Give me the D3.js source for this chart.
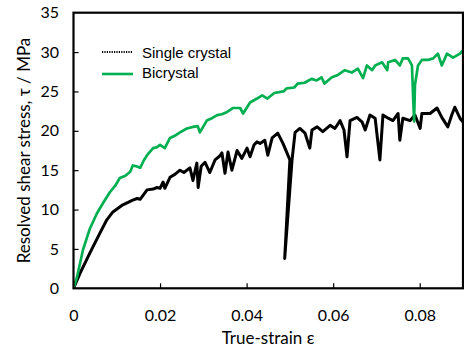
<!DOCTYPE html>
<html><head><meta charset="utf-8">
<script src="https://cdn.jsdelivr.net/npm/d3@7"></script>
<style>body{margin:0;background:#fff}svg{display:block}</style>
</head><body>
<script>
const xTicks = [0, 0.02, 0.04, 0.06, 0.08];
const xTickLabels = ["0", "0.02", "0.04", "0.06", "0.08"];
const yTicks = [0, 5, 10, 15, 20, 25, 30, 35];
const seriesNames = ["Single crystal", "Bicrystal"];

const singleStrain = [0,0.0015,0.0038,0.0061,0.0077,0.0091,0.0114,0.0137,0.0147,0.0154,0.0170,0.0184,0.0193,0.0200,0.0207,0.0211,0.0223,0.0235,0.0246,0.0255,0.0269,0.0276,0.0285,0.0288,0.0295,0.0304,0.0315,0.0327,0.0338,0.0343,0.0350,0.0357,0.0366,0.0378,0.0389,0.0401,0.0408,0.0417,0.0424,0.0431,0.0442,0.0449,0.0459,0.0472,0.0484,0.0500,0.0488,0.0505,0.0512,0.0523,0.0535,0.0546,0.0551,0.0563,0.0576,0.0593,0.0604,0.0616,0.0625,0.0632,0.0639,0.0655,0.0667,0.0674,0.0685,0.0697,0.0708,0.0715,0.0727,0.0738,0.0750,0.0754,0.0761,0.0778,0.0789,0.0801,0.0805,0.0824,0.0840,0.0851,0.0865,0.0874,0.0881,0.0893,0.0900];
const singleStress = [0,1.9,4.5,7.0,8.7,9.7,10.6,11.2,11.4,11.3,12.5,12.6,12.8,12.7,13.5,12.7,14.1,14.5,15.0,14.7,15.3,13.7,15.9,12.8,15.5,16.0,14.7,16.3,16.8,17.2,14.6,17.3,15.0,17.5,16.5,17.8,16.7,18.2,18.6,18.4,18.8,16.9,19.1,19.7,18.4,16.3,3.8,16.3,19.8,20.3,19.7,17.8,20.1,20.5,19.9,20.7,20.3,21.3,20.1,16.7,21.3,21.7,21.1,20.1,22.0,21.6,16.3,22.0,21.6,21.3,22.2,18.8,21.6,21.3,22.0,20.3,22.2,22.2,22.9,21.7,20.5,22.0,23.0,21.6,21.1];

const biStrain = [0,0.0008,0.0022,0.0038,0.0054,0.0068,0.0084,0.0096,0.0107,0.0120,0.0131,0.0137,0.0145,0.0154,0.0162,0.0170,0.0184,0.0192,0.0200,0.0211,0.0223,0.0235,0.0246,0.0262,0.0276,0.0287,0.0292,0.0308,0.0320,0.0332,0.0343,0.0355,0.0369,0.0385,0.0392,0.0408,0.0424,0.0436,0.0448,0.0464,0.0485,0.0493,0.0510,0.0518,0.0534,0.0550,0.0562,0.0573,0.0580,0.0597,0.0611,0.0627,0.0643,0.0657,0.0669,0.0678,0.0690,0.0697,0.0713,0.0725,0.0727,0.0743,0.0754,0.0761,0.0773,0.0782,0.0787,0.0789,0.0796,0.0805,0.0819,0.0831,0.0842,0.0851,0.0863,0.0877,0.0893,0.0900];
const biStress = [0,1.4,4.9,7.6,9.5,10.8,12.2,13.0,14.0,14.3,14.8,15.6,15.5,15.3,16.2,16.9,17.8,17.9,18.2,17.8,19.1,19.4,19.8,20.3,20.5,20.6,19.8,21.3,21.6,22.0,22.1,22.4,22.9,22.9,22.2,23.6,24.1,24.5,24.1,24.8,25.0,25.4,25.5,26.0,26.1,26.6,26.4,26.8,26.0,26.8,27.1,27.7,27.4,27.9,26.7,28.3,27.7,28.3,28.7,27.7,28.7,29.0,28.3,29.2,29.2,28.3,21.2,25.8,28.3,29.0,29.0,29.2,29.8,28.3,29.8,29.3,29.8,30.2];

const W = 464, H = 353;
const m = {left: 73.5, right: 1, top: 12.7, bottom: 64.7};
const svg = d3.select("body").append("svg").attr("width", W).attr("height", H);

const x = d3.scaleLinear().domain([0, 0.09]).range([m.left, W - m.right]);
const y = d3.scaleLinear().domain([0, 35]).range([H - m.bottom, m.top]);

const line = d3.line().x(d => x(d[0])).y(d => y(d[1]));
svg.append("clipPath").attr("id", "c").append("rect")
  .attr("x", m.left).attr("y", m.top).attr("width", x(0.09) - m.left).attr("height", y(0) - m.top);

const plot = svg.append("g").attr("clip-path", "url(#c)");
plot.append("path").datum(d3.zip(singleStrain, singleStress))
  .attr("d", line).attr("fill", "none").attr("stroke", "#000").attr("stroke-width", 3)
  .attr("stroke-linejoin", "round");
plot.append("path").datum(d3.zip(biStrain, biStress))
  .attr("d", line).attr("fill", "none").attr("stroke", "#00B050").attr("stroke-width", 2.7)
  .attr("stroke-linejoin", "round");

const xAxis = svg.append("g").attr("transform", `translate(0,${y(0)})`)
  .call(d3.axisBottom(x).tickValues(xTicks).tickFormat((d, i) => xTickLabels[i])
    .tickSizeInner(-5).tickSizeOuter(0).tickPadding(21));
const yAxis = svg.append("g").attr("transform", `translate(${m.left},0)`)
  .call(d3.axisLeft(y).tickValues(yTicks).tickSizeInner(-5).tickSizeOuter(0).tickPadding(14.5));
[xAxis, yAxis].forEach(g => {
  g.select(".domain").remove();
  g.selectAll(".tick line").attr("stroke", "#000").attr("stroke-width", 1.2);
  g.selectAll(".tick text").attr("font-family", "Lato, 'Open Sans', sans-serif").attr("font-size", 16).attr("fill", "#000");
});
yAxis.selectAll(".tick").filter(d => d === 0 || d === 35).select("line").remove();
xAxis.selectAll(".tick").filter(d => d === 0).select("line").remove();

svg.append("rect").attr("x", m.left).attr("y", m.top)
  .attr("width", x(0.09) - m.left).attr("height", y(0) - m.top)
  .attr("fill", "none").attr("stroke", "#000").attr("stroke-width", 2.2);

svg.append("text").attr("x", 268).attr("y", 344).attr("text-anchor", "middle")
  .attr("font-family", "Lato, 'Open Sans', sans-serif").attr("font-size", 17).text("True-strain ε");
svg.append("text").attr("transform", `translate(30,${(m.top + y(0)) / 2}) rotate(-90)`)
  .attr("text-anchor", "middle").attr("font-family", "Lato, 'Open Sans', sans-serif").attr("font-size", 17)
  .text("Resolved shear stress, τ / MPa");

// legend
const lg = svg.append("g");
lg.append("line").attr("x1", 102).attr("x2", 132).attr("y1", 52).attr("y2", 52)
  .attr("stroke", "#000").attr("stroke-width", 2).attr("stroke-dasharray", "1.2,1.2");
lg.append("text").attr("x", 142).attr("y", 57.5).attr("font-family", "'Liberation Sans', Arial, sans-serif")
  .attr("font-size", 15).text(seriesNames[0]);
lg.append("line").attr("x1", 102).attr("x2", 133).attr("y1", 74).attr("y2", 74)
  .attr("stroke", "#00B050").attr("stroke-width", 2.6);
lg.append("text").attr("x", 142).attr("y", 77.5).attr("font-family", "'Liberation Sans', Arial, sans-serif")
  .attr("font-size", 15).text(seriesNames[1]);
</script>
</body></html>
